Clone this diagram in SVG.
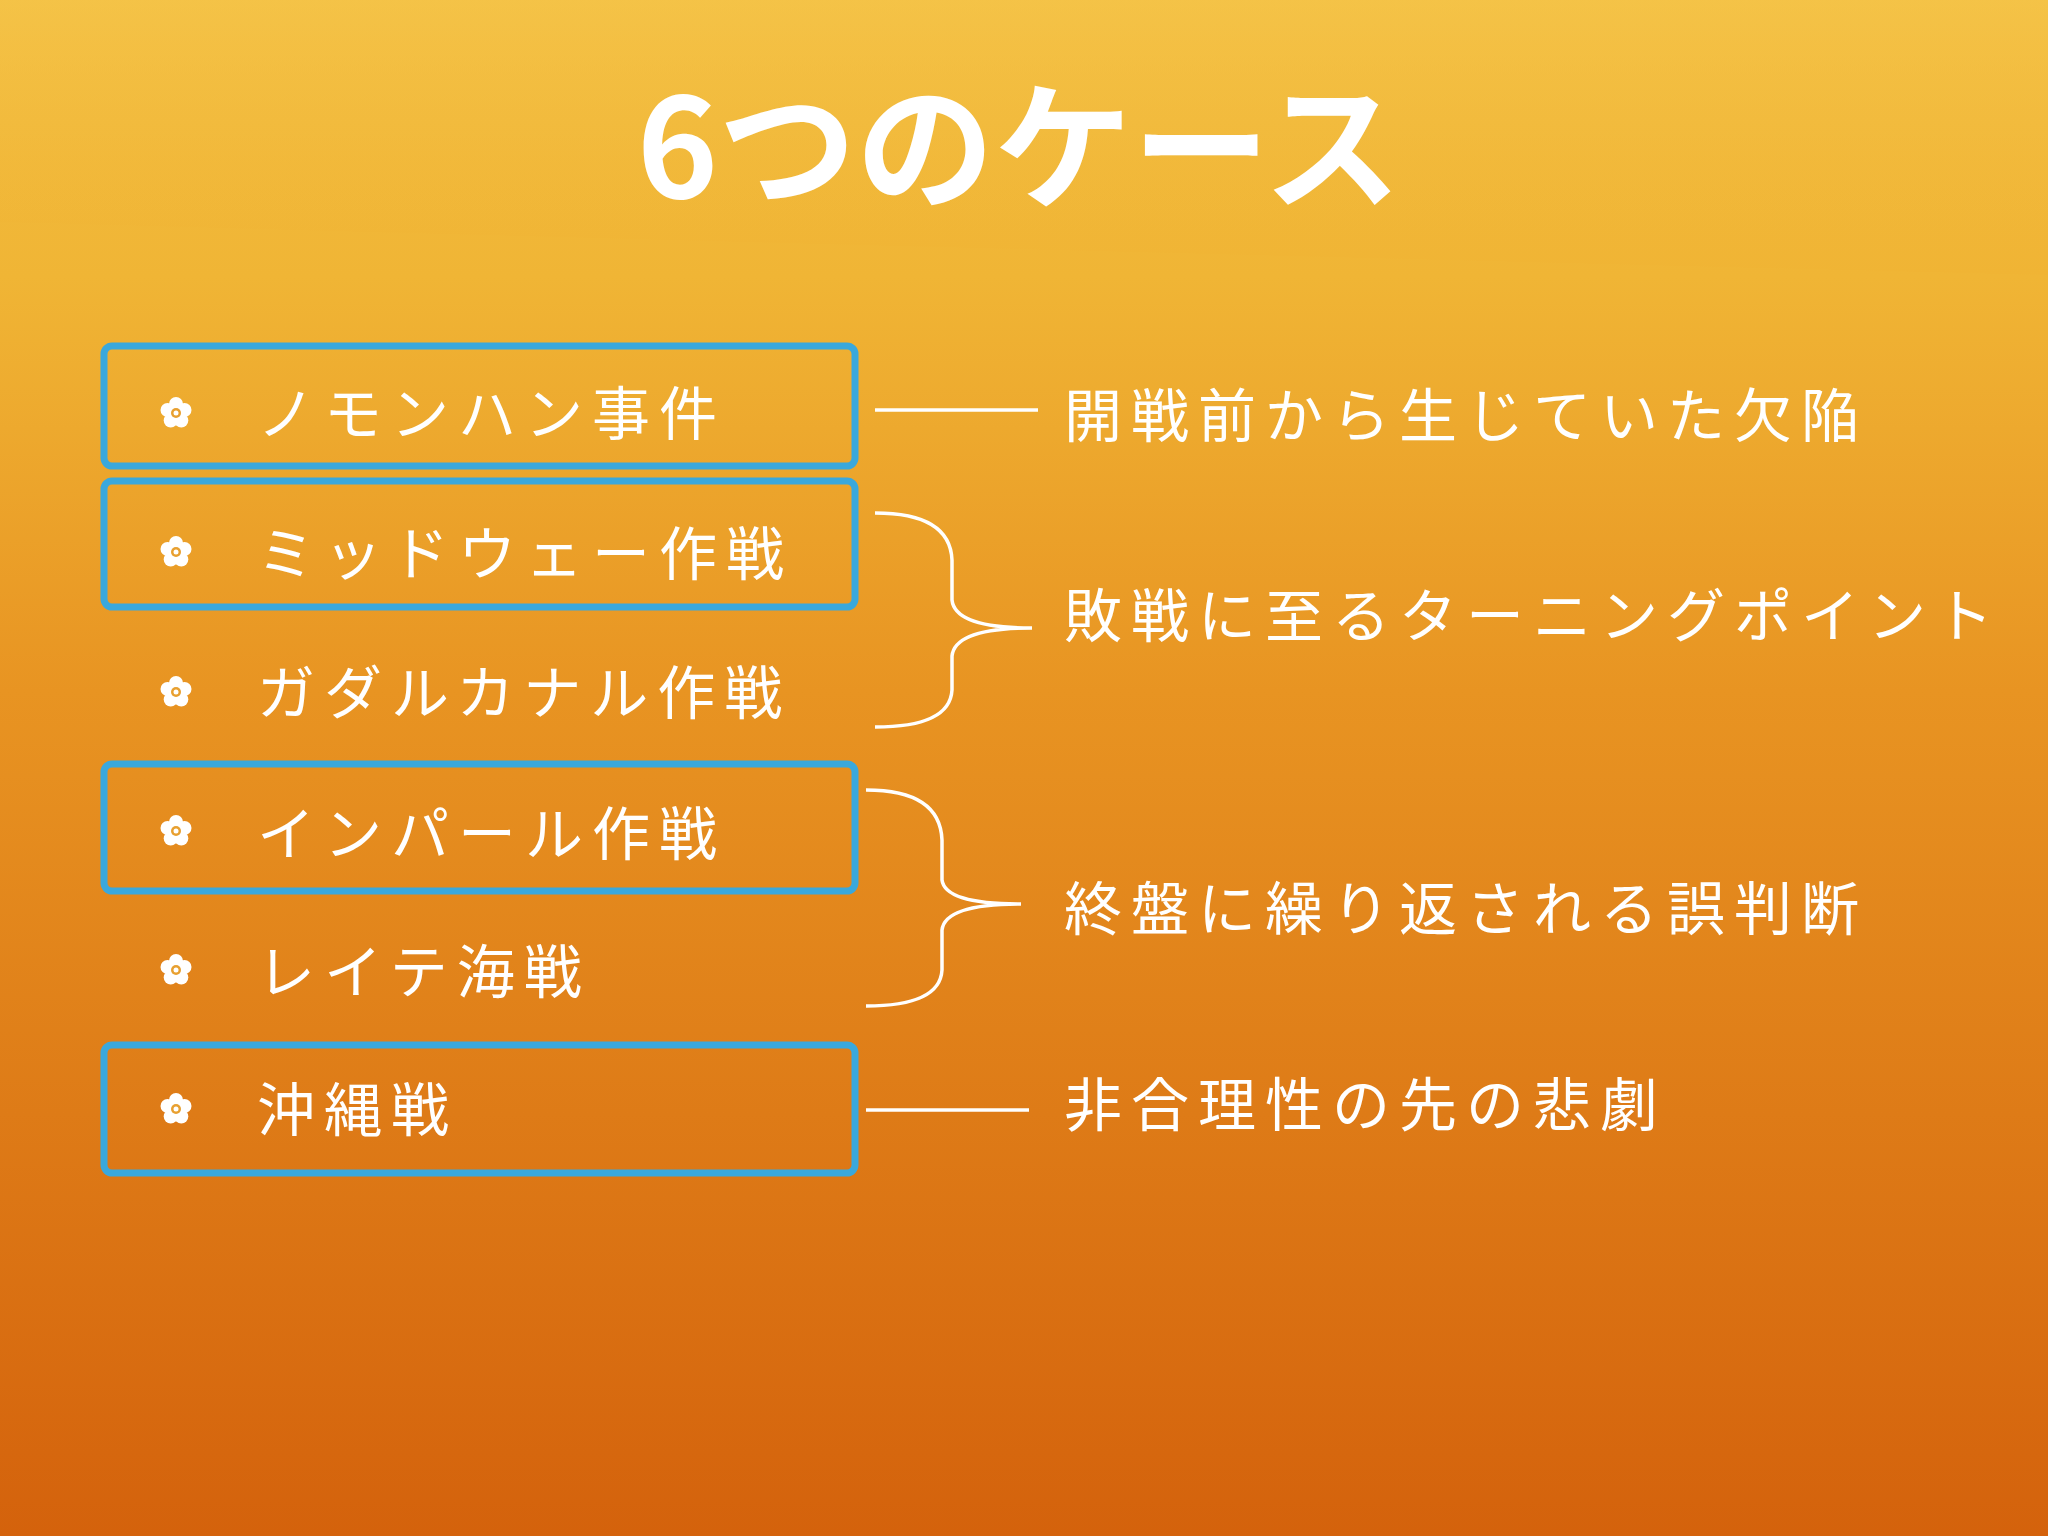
<svg xmlns="http://www.w3.org/2000/svg" width="2048" height="1536" viewBox="0 0 2048 1536">
<defs>
<linearGradient id="bg" x1="0" y1="0" x2="0" y2="1">
<stop offset="0" stop-color="#f2be42"/>
<stop offset="0.18" stop-color="#f0b535"/>
<stop offset="0.45" stop-color="#e89422"/>
<stop offset="1" stop-color="#d4620c"/>
</linearGradient>
<linearGradient id="band" x1="0" y1="0" x2="0" y2="1">
<stop offset="0" stop-color="#f6c64a" stop-opacity="0.6"/>
<stop offset="1" stop-color="#f0b030" stop-opacity="0.2"/>
</linearGradient>
<g id="flower">
<circle cx="0" cy="-9" r="7" fill="#fff"/>
<circle cx="8.5" cy="-3" r="7" fill="#fff"/>
<circle cx="5.3" cy="7.5" r="7" fill="#fff"/>
<circle cx="-5.3" cy="7.5" r="7" fill="#fff"/>
<circle cx="-8.5" cy="-3" r="7" fill="#fff"/>
<circle cx="0" cy="0" r="5" fill="#e8a030"/>
<circle cx="0" cy="0" r="2.5" fill="#fff"/>
</g>
</defs>
<style>
.box{fill:none;stroke:#3aa8dc;stroke-width:7}
.t{font-family:"Noto Sans CJK JP",sans-serif;fill:#fff;font-size:58px;letter-spacing:9px}
.c{fill:none;stroke:#fff;stroke-width:3.5}
</style>
<rect width="2048" height="1536" fill="url(#bg)"/>
<path d="M0 0H2048V275Q1024 250 0 222Z" fill="url(#band)"/>
<text x="1019" y="198" text-anchor="middle" font-family="'Noto Sans CJK JP',sans-serif" font-weight="bold" font-size="138" fill="#fff">6つのケース</text>
<g id="n1"><rect class="box" x="104" y="346" width="751" height="120" rx="8"/><use href="#flower" x="176" y="413"/><text class="t" x="257" y="435">ノモンハン事件</text></g>
<g id="n2"><rect class="box" x="104" y="481" width="751" height="126" rx="8"/><use href="#flower" x="176" y="552"/><text class="t" x="257" y="575">ミッドウェー作戦</text></g>
<g id="n3"><use href="#flower" x="176" y="692"/><text class="t" x="257" y="714">ガダルカナル作戦</text></g>
<g id="n4"><rect class="box" x="104" y="764" width="751" height="127" rx="8"/><use href="#flower" x="176" y="831"/><text class="t" x="257" y="855">インパール作戦</text></g>
<g id="n5"><use href="#flower" x="176" y="970"/><text class="t" x="257" y="993">レイテ海戦</text></g>
<g id="n6"><rect class="box" x="104" y="1045" width="751" height="128" rx="8"/><use href="#flower" x="176" y="1109"/><text class="t" x="257" y="1131">沖縄戦</text></g>
<g id="connectors">
<line class="c" x1="875" y1="410" x2="1038" y2="410"/>
<path class="c" d="M875 513Q950 513 952 560V600Q955 628 1032 628Q955 628 952 656V690Q950 727 875 727"/>
<path class="c" d="M866 790Q940 790 942 840V880Q945 904 1021 904Q945 904 942 930V970Q940 1006 866 1006"/>
<line class="c" x1="866" y1="1110" x2="1029" y2="1110"/>
</g>
<g id="labels">
<text class="t" x="1064" y="437">開戦前から生じていた欠陥</text>
<text class="t" x="1064" y="637">敗戦に至るターニングポイント</text>
<text class="t" x="1064" y="930">終盤に繰り返される誤判断</text>
<text class="t" x="1064" y="1126">非合理性の先の悲劇</text>
</g>
</svg>
